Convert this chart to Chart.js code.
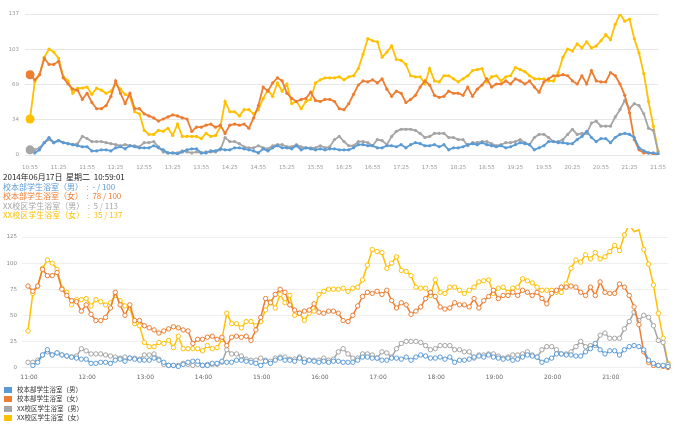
<!DOCTYPE html>
<html>
<head>
<meta charset="utf-8">
<script src="https://cdn.jsdelivr.net/npm/chart.js@4.4.1/dist/chart.umd.min.js"></script>
<style>
  body{margin:0;background:#fff;width:675px;height:425px;overflow:hidden;position:relative;font-family:"Noto Sans CJK SC","Noto Sans",sans-serif}
  #top{position:absolute;left:0;top:0;width:675px;height:172px}
  #info{position:absolute;left:3px;top:172px;font-size:8px;line-height:9.5px;white-space:pre}
  #bot{position:absolute;left:0;top:228px;width:675px;height:158px}
  #legend{position:absolute;left:4px;top:385px;font-size:6.5px;line-height:9.4px;color:#333;white-space:pre}
  #legend i{display:inline-block;width:8px;height:6px;margin-right:5px;vertical-align:-1px}
</style>
</head>
<body>
<div id="top"><canvas id="c1"></canvas></div>
<div id="info"></div>
<div id="bot"><canvas id="c2"></canvas></div>
<div id="legend"></div>
<script>
// ── 数据 ─────────────────────────────────────
const seriesNames = ['校本部学生浴室（男）','校本部学生浴室（女）','XX校区学生浴室（男）','XX校区学生浴室（女）'];
const colors      = ['#5b9bd5','#ed7d31','#a5a5a5','#ffc000'];
const capacity    = [100,100,113,137];
const infoDate    = '2014年06月17日  星期二  10:59:01';

// 每 5 分钟一个点，从 10:59 开始
const firstMinute = 10*60+59;
const stepMinutes = 5;

const mainBoys = [null,2,5,12,17,12,14,12,11,10,9,8,8,4,4,5,5,4,7,8,6,9,8,7,7,7,9,7,5,2,2,1,3,5,6,6,2,2,4,4,6,5,5,7,7,6,5,4,2,6,4,7,9,7,7,6,9,5,7,6,5,6,5,6,6,
  5,5,5,7,10,10,9,9,7,7,9,9,8,10,7,10,12,11,9,9,10,8,10,5,7,7,8,10,11,10,12,10,9,8,9,7,8,10,12,11,10,5,7,9,13,13,12,12,11,11,15,18,23,17,13,16,16,12,17,20,21,20,17,7,4,2,2,1];
const mainGirls = [78,73,78,94,88,88,91,75,69,64,63,54,60,51,45,45,48,57,72,60,50,60,45,45,40,38,36,33,35,37,39,38,36,35,23,27,27,29,30,27,29,21,29,30,29,30,26,36,48,66,62,70,75,72,60,55,52,54,55,61,53,52,54,54,52,
  45,44,50,59,68,72,71,73,70,74,64,57,62,60,51,54,58,66,72,68,58,56,57,62,60,60,58,66,57,64,68,74,66,69,69,72,69,74,72,69,72,66,61,71,74,77,77,78,77,72,69,77,69,82,72,71,71,80,77,69,58,41,15,5,2,2,1,0];
const campusBoys = [5,5,7,12,15,12,14,12,11,10,11,18,16,13,13,13,12,11,10,9,10,9,9,8,12,12,13,8,3,2,2,2,4,3,2,3,2,3,3,3,5,17,13,13,11,8,7,7,9,7,6,9,10,10,8,8,10,8,7,7,7,9,7,8,15,
  18,13,9,9,13,13,12,9,15,14,10,18,23,25,25,25,24,21,17,18,21,21,21,17,17,15,15,9,12,12,13,13,11,9,10,12,12,13,15,12,10,17,20,20,17,13,13,15,20,25,20,21,21,31,33,28,28,28,37,44,53,45,50,48,40,26,24,3];
const campusGirls = [35,71,78,95,103,100,94,76,72,60,65,65,66,59,65,63,60,62,69,64,59,57,42,40,24,20,20,24,23,26,19,30,18,18,18,18,16,21,18,19,27,52,42,42,38,44,44,40,44,55,63,57,70,62,69,50,52,45,52,54,70,73,75,75,75,
  76,73,76,77,84,98,113,111,110,95,100,106,93,92,88,77,76,76,69,84,72,71,77,77,74,71,74,77,82,83,84,71,76,77,72,76,77,85,83,81,77,74,74,74,72,72,80,95,103,101,108,104,110,104,106,111,117,112,127,137,130,132,113,99,79,52,28,4];
const series = [mainBoys, mainGirls, campusBoys, campusGirls];

const topTickLabels = ['10:55','11:25','11:55','12:25','12:55','13:25','13:55','14:25','14:55','15:25','15:55','16:25',
  '16:55','17:25','17:55','18:25','18:55','19:25','19:55','20:25','20:55','21:25','21:55'];
const topYTicks  = [0,34.25,68.5,102.75,137];
const topYLabels = ['0','34','69','103','137'];
const bottomTickLabels = ['11:00','12:00','13:00','14:00','15:00','16:00','17:00','18:00','19:00','20:00','21:00'];

// ── 工具 ─────────────────────────────────────
const hm = s => { const [h,m]=s.split(':'); return (+h)*60+(+m); };
const cats = mainGirls.map((_,i)=>i);
const tickFont = {family:'"DejaVu Sans", sans-serif', size:5.5};

// ── 上图 ─────────────────────────────────────
new Chart(document.getElementById('c1'), {
  type:'line',
  data:{labels:cats, datasets:series.map((d,k)=>({
    label:seriesNames[k], data:d, borderColor:colors[k], backgroundColor:colors[k],
    borderWidth:1.8, pointRadius:ctx=>ctx.dataIndex===0?4.5:1.6, pointBorderWidth:0, tension:0,
  }))},
  options:{
    animation:false, responsive:true, maintainAspectRatio:false, events:[],
    layout:{padding:{top:14,right:9,left:0,bottom:0}},
    plugins:{legend:{display:false}, tooltip:{enabled:false}},
    scales:{
      x:{ticks:{autoSkip:false,maxRotation:0,font:tickFont,color:'#999',padding:9,
          callback:(v,i)=> i%6===0 ? topTickLabels[i/6] : null},
        grid:{display:false,drawTicks:false}, border:{display:false}, afterFit:s=>{s.height=17;}},
      y:{min:0,max:137, afterBuildTicks:s=>{s.ticks=topYTicks.map(v=>({value:v}));},
        ticks:{callback:(v,i)=>topYLabels[i], font:tickFont, color:'#999', padding:6},
        grid:{color:'#e6e6e6', tickLength:5}, border:{display:false}, afterFit:s=>{s.width=30;}},
    },
  },
});

// ── 当前值 ───────────────────────────────────
const info = document.getElementById('info');
info.innerHTML = '<div style="color:#222">'+infoDate+'</div>' + series.map((d,k)=>
  '<div style="color:'+colors[k]+'">'+seriesNames[k]+'  :  '+(d[0]==null?'-':d[0])+' / '+capacity[k]+'</div>').join('');

// ── 下图 ─────────────────────────────────────
new Chart(document.getElementById('c2'), {
  type:'line',
  data:{datasets:series.map((d,k)=>({
    label:seriesNames[k], data:d.map((v,i)=>({x:firstMinute+stepMinutes*i, y:v})),
    borderColor:colors[k], backgroundColor:'#fff',
    borderWidth:1.5, pointRadius:2.2, pointBorderWidth:1, tension:0, clip:false,
  }))},
  options:{
    animation:false, responsive:true, maintainAspectRatio:false, events:[],
    layout:{padding:{top:9,right:7,left:0,bottom:0}},
    plugins:{legend:{display:false}, tooltip:{enabled:false}},
    scales:{
      x:{type:'linear', min:firstMinute, max:firstMinute+stepMinutes*(mainGirls.length-1),
        afterBuildTicks:s=>{s.ticks=bottomTickLabels.map(t=>({value:hm(t)}));},
        ticks:{callback:(v,i)=>bottomTickLabels[i], font:{family:'"DejaVu Sans", sans-serif',size:6}, color:'#666', padding:6, maxRotation:0},
        grid:{display:false,drawTicks:false}, border:{display:false}, afterFit:s=>{s.height=18.5;}},
      y:{min:0,max:125, ticks:{stepSize:25, font:tickFont, color:'#888', padding:5},
        grid:{color:'#eeeeee', tickLength:6}, border:{display:false}, afterFit:s=>{s.width=28;}},
    },
  },
});

// ── 图例 ─────────────────────────────────────
document.getElementById('legend').innerHTML = seriesNames.map((n,k)=>
  '<div><i style="background:'+colors[k]+'"></i>'+n+'</div>').join('');
</script>
</body>
</html>
